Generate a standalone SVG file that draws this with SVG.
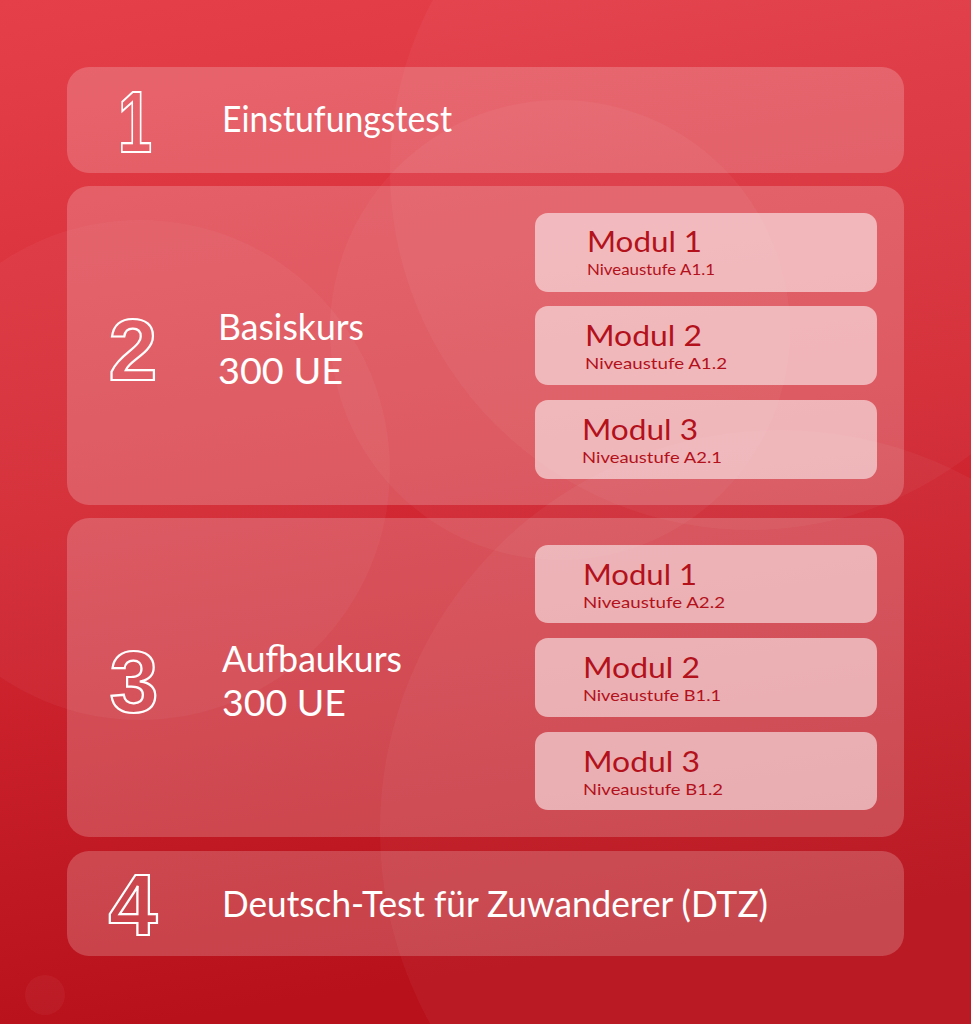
<svg xmlns="http://www.w3.org/2000/svg" width="971" height="1024" viewBox="0 0 971 1024">
<defs>
<linearGradient id="bg" x1="0" y1="0" x2="0.15" y2="1">
<stop offset="0" stop-color="#e5404a"/>
<stop offset="0.5" stop-color="#d42a35"/>
<stop offset="1" stop-color="#b8111b"/>
</linearGradient>
</defs>
<style>
.panel{fill:#ffffff;fill-opacity:0.2}
.mod{fill:#ffffff;fill-opacity:0.55}
.num{font-family:"Liberation Sans",Arial,sans-serif;font-weight:700;fill:none;stroke:#ffffff;stroke-width:2.2;font-size:88px}
.lbl{font-family:Lato,"Open Sans",sans-serif;fill:#ffffff;font-size:37px}
.mt{font-family:Lato,"Open Sans",sans-serif;fill:#b3111b;font-size:29px}
.ms{font-family:Lato,"Open Sans",sans-serif;fill:#b3111b;font-size:16px}
.circ{fill:#ffffff;fill-opacity:0.04}
</style>
<rect x="0" y="0" width="971" height="1024" fill="url(#bg)"/>
<g id="background-circles">
<circle class="circ" cx="750" cy="170" r="360"/>
<circle class="circ" cx="560" cy="330" r="230"/>
<circle class="circ" cx="140" cy="470" r="250"/>
<circle class="circ" cx="780" cy="830" r="400"/>
<circle class="circ" cx="45" cy="995" r="20"/>
</g>
<g id="step1">
<rect class="panel" x="67" y="67" width="837" height="106" rx="22"/>
<text class="num" x="135" y="152" text-anchor="middle" textLength="34" lengthAdjust="spacingAndGlyphs">1</text>
<text class="lbl" x="222" y="132" textLength="230" lengthAdjust="spacingAndGlyphs">Einstufungstest</text>
</g>
<g id="step2">
<rect class="panel" x="67" y="186" width="837" height="319" rx="22"/>
<text class="num" x="133" y="380" text-anchor="middle">2</text>
<text class="lbl" x="218" y="340" textLength="146" lengthAdjust="spacingAndGlyphs">Basiskurs</text>
<text class="lbl" x="218" y="384" textLength="125" lengthAdjust="spacingAndGlyphs">300 UE</text>
</g>
<g id="step2-modul1">
<rect class="mod" x="535" y="213" width="342" height="79" rx="13"/>
<text class="mt" x="587" y="252" textLength="115" lengthAdjust="spacingAndGlyphs">Modul 1</text>
<text class="ms" x="587" y="275" textLength="128" lengthAdjust="spacingAndGlyphs">Niveaustufe A1.1</text>
</g>
<g id="step2-modul2">
<rect class="mod" x="535" y="306" width="342" height="79" rx="13"/>
<text class="mt" x="585" y="346" textLength="117" lengthAdjust="spacingAndGlyphs">Modul 2</text>
<text class="ms" x="585" y="369" textLength="142" lengthAdjust="spacingAndGlyphs">Niveaustufe A1.2</text>
</g>
<g id="step2-modul3">
<rect class="mod" x="535" y="400" width="342" height="79" rx="13"/>
<text class="mt" x="582" y="440" textLength="116" lengthAdjust="spacingAndGlyphs">Modul 3</text>
<text class="ms" x="582" y="463" textLength="140" lengthAdjust="spacingAndGlyphs">Niveaustufe A2.1</text>
</g>
<g id="step3">
<rect class="panel" x="67" y="518" width="837" height="319" rx="22"/>
<text class="num" x="134" y="712" text-anchor="middle">3</text>
<text class="lbl" x="222" y="672" textLength="180" lengthAdjust="spacingAndGlyphs">Aufbaukurs</text>
<text class="lbl" x="222" y="716" textLength="124" lengthAdjust="spacingAndGlyphs">300 UE</text>
</g>
<g id="step3-modul1">
<rect class="mod" x="535" y="545" width="342" height="78" rx="13"/>
<text class="mt" x="583" y="585" textLength="114" lengthAdjust="spacingAndGlyphs">Modul 1</text>
<text class="ms" x="583" y="608" textLength="142" lengthAdjust="spacingAndGlyphs">Niveaustufe A2.2</text>
</g>
<g id="step3-modul2">
<rect class="mod" x="535" y="638" width="342" height="79" rx="13"/>
<text class="mt" x="583" y="678" textLength="117" lengthAdjust="spacingAndGlyphs">Modul 2</text>
<text class="ms" x="583" y="701" textLength="138" lengthAdjust="spacingAndGlyphs">Niveaustufe B1.1</text>
</g>
<g id="step3-modul3">
<rect class="mod" x="535" y="732" width="342" height="78" rx="13"/>
<text class="mt" x="583" y="772" textLength="117" lengthAdjust="spacingAndGlyphs">Modul 3</text>
<text class="ms" x="583" y="795" textLength="140" lengthAdjust="spacingAndGlyphs">Niveaustufe B1.2</text>
</g>
<g id="step4">
<rect class="panel" x="67" y="851" width="837" height="105" rx="22"/>
<text class="num" x="133" y="935" text-anchor="middle">4</text>
<text class="lbl" x="222" y="917" textLength="546" lengthAdjust="spacingAndGlyphs">Deutsch-Test für Zuwanderer (DTZ)</text>
</g>
<g id="connectors"></g>
</svg>
